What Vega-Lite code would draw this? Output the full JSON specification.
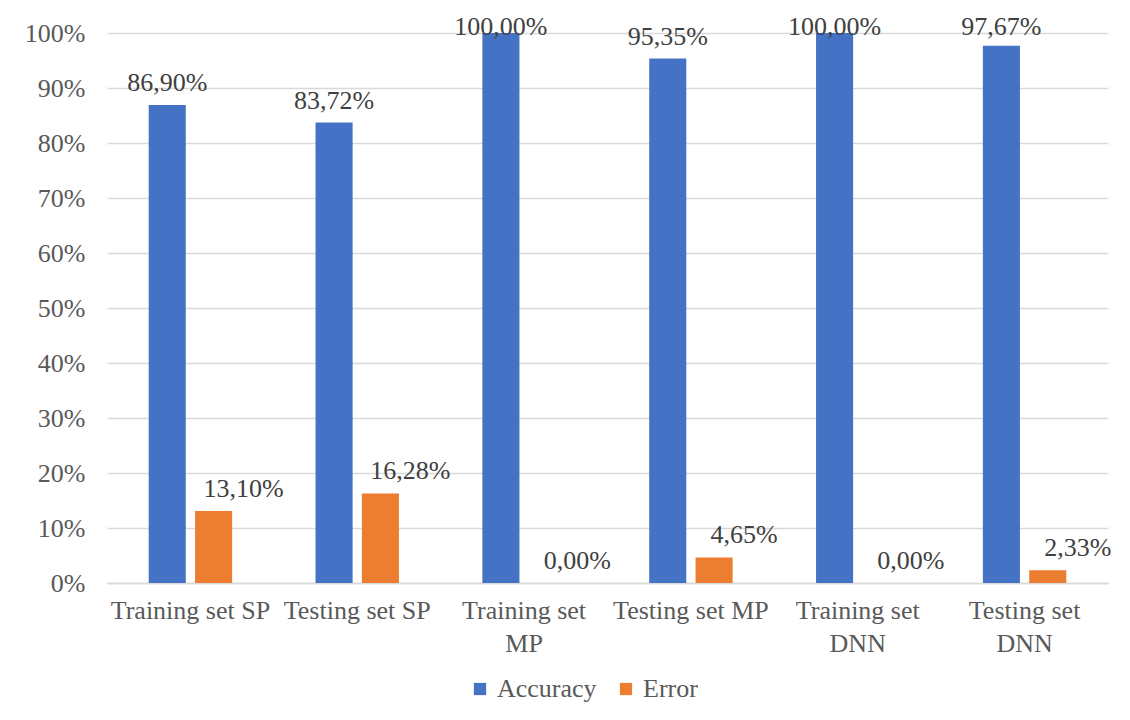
{
  "$schema": "https://vega.github.io/schema/vega-lite/v6.json",
  "width": 1001,
  "height": 550,
  "autosize": {"type": "none"},
  "padding": {"left": 107, "top": 33, "right": 22, "bottom": 137},
  "background": "white",
  "config": {
    "locale": {"number": {"decimal": ",", "thousands": ".", "grouping": [3], "currency": ["", " €"]}},
    "font": "Liberation Serif",
    "view": {"stroke": null}
  },
  "data": {
    "values": [
      {"set": "Training set SP", "metric": "Accuracy", "value": 0.869},
      {"set": "Training set SP", "metric": "Error", "value": 0.131},
      {"set": "Testing set SP", "metric": "Accuracy", "value": 0.8372},
      {"set": "Testing set SP", "metric": "Error", "value": 0.1628},
      {"set": "Training set MP", "metric": "Accuracy", "value": 1.0},
      {"set": "Training set MP", "metric": "Error", "value": 0.0},
      {"set": "Testing set MP", "metric": "Accuracy", "value": 0.9535},
      {"set": "Testing set MP", "metric": "Error", "value": 0.0465},
      {"set": "Training set DNN", "metric": "Accuracy", "value": 1.0},
      {"set": "Training set DNN", "metric": "Error", "value": 0.0},
      {"set": "Testing set DNN", "metric": "Accuracy", "value": 0.9767},
      {"set": "Testing set DNN", "metric": "Error", "value": 0.0233}
    ]
  },
  "encoding": {
    "x": {
      "field": "set", "type": "nominal", "sort": null, "title": null,
      "scale": {"paddingInner": 0.5, "paddingOuter": 0.25},
      "axis": {
        "labelAngle": 0, "labelFontSize": 26, "labelColor": "#595959", "labelFont": "Liberation Serif",
        "labelPadding": 14, "labelLineHeight": 33, "ticks": false, "domainColor": "#d9d9d9", "domainWidth": 1.5,
        "labelExpr": "datum.value == 'Training set MP' ? ['Training set', 'MP'] : datum.value == 'Training set DNN' ? ['Training set', 'DNN'] : datum.value == 'Testing set DNN' ? ['Testing set', 'DNN'] : datum.value"
      }
    },
    "xOffset": {"field": "metric", "type": "nominal", "sort": ["Accuracy", "Error"], "scale": {"paddingInner": 0.2}},
    "y": {
      "field": "value", "type": "quantitative", "title": null,
      "scale": {"domain": [0, 1]},
      "axis": {
        "format": ".0%", "values": [0, 0.1, 0.2, 0.3, 0.4, 0.5, 0.6, 0.7, 0.8, 0.9, 1.0],
        "labelFontSize": 26, "labelColor": "#595959", "labelPadding": 22, "ticks": false, "domain": false,
        "gridColor": "#d9d9d9", "gridWidth": 1.5
      }
    }
  },
  "layer": [
    {
      "mark": {"type": "bar"},
      "encoding": {
        "color": {
          "field": "metric", "type": "nominal",
          "scale": {"domain": ["Accuracy", "Error"], "range": ["#4472C4", "#ED7D31"]},
          "legend": {
            "title": null, "orient": "none", "direction": "horizontal", "legendX": 360, "legendY": 643,
            "symbolType": "square", "symbolSize": 150, "symbolStrokeWidth": 0, "labelFontSize": 26, "labelColor": "#595959",
            "columnPadding": 16, "labelOffset": 4
          }
        }
      }
    },
    {
      "transform": [
        {"filter": "datum.metric == 'Accuracy'"},
        {"calculate": "min(datum.value, 0.971)", "as": "labelPos"}
      ],
      "mark": {"type": "text", "baseline": "middle", "dy": -22, "fontSize": 26, "color": "#404040"},
      "encoding": {
        "y": {"field": "labelPos", "type": "quantitative"},
        "text": {"field": "value", "type": "quantitative", "format": ".2%"}
      }
    },
    {
      "transform": [{"filter": "datum.metric == 'Error'"}],
      "mark": {"type": "text", "baseline": "middle", "dy": -22, "dx": 30, "fontSize": 26, "color": "#404040"},
      "encoding": {"text": {"field": "value", "type": "quantitative", "format": ".2%"}}
    }
  ]
}
